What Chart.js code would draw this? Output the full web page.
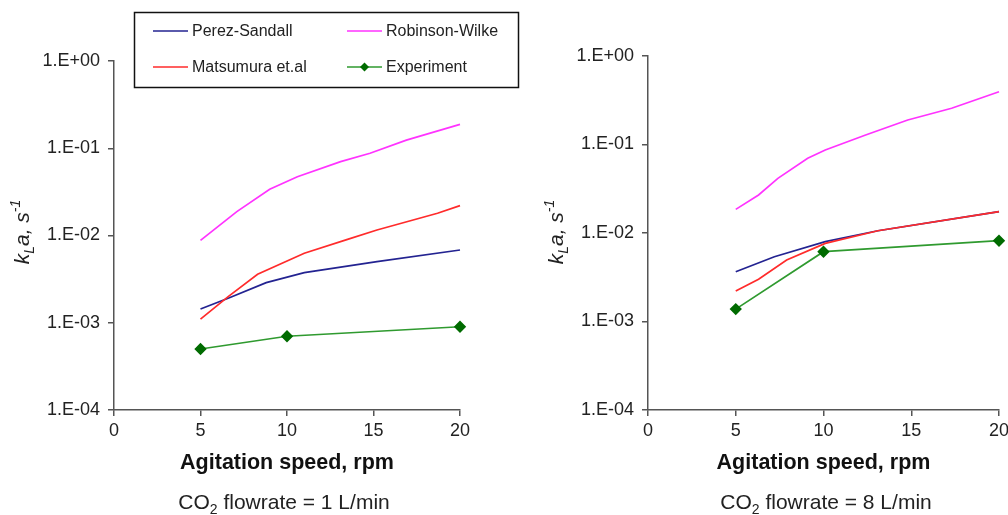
<!DOCTYPE html>
<html>
<head>
<meta charset="utf-8">
<script src="https://cdn.jsdelivr.net/npm/chart.js@4.4.1/dist/chart.umd.min.js"></script>
<style>
    html, body { margin: 0; padding: 0; background: #fff; }
    #wrap { position: relative; width: 1008px; height: 515px; overflow: hidden; font-family: 'Liberation Sans', Arial, sans-serif; color: #222; }
    .pane { position: absolute; top: 0; }
    .flow { position: absolute; top: 489px; width: 300px; text-align: center; font-size: 21px; line-height: 26px; }
    .flow sub { font-size: 14px; vertical-align: -5px; line-height: 0; }
</style>
</head>
<body>
<div id="wrap">
    <div class="pane" style="left:0"><canvas id="chart-1" width="520" height="515"></canvas></div>
    <div class="pane" style="left:520px"><canvas id="chart-8" width="510" height="515"></canvas></div>
    <div class="flow" style="left:134px">CO<sub>2</sub> flowrate = 1 L/min</div>
    <div class="flow" style="left:676px">CO<sub>2</sub> flowrate = 8 L/min</div>
</div>
<script>
const seriesNames = ['Perez-Sandall', 'Robinson-Wilke', 'Matsumura et.al', 'Experiment'];
const yTickValues = [1e-4, 1e-3, 1e-2, 1e-1, 1];
const yTickLabels = ['1.E-04', '1.E-03', '1.E-02', '1.E-01', '1.E+00'];
const xTickValues = [0, 5, 10, 15, 20];

// CO2 flowrate = 1 L/min
const ps1X = [5, 6.6, 8.8, 11.0, 15.2, 20];
const ps1Y = [0.00144, 0.00191, 0.00288, 0.00375, 0.00501, 0.00682];
const rw1X = [5, 7.1, 9.0, 10.6, 13.1, 14.8, 16.9, 20];
const rw1Y = [0.0088, 0.0188, 0.0339, 0.0472, 0.0702, 0.0876, 0.124, 0.188];
const ma1X = [5, 6.6, 8.3, 11.0, 13.5, 15.2, 18.7, 20];
const ma1Y = [0.0011, 0.00199, 0.00359, 0.00625, 0.00904, 0.01156, 0.01796, 0.0220];
const ex1X = [5, 10, 20];
const ex1Y = [0.0005, 0.0007, 0.0009];

// CO2 flowrate = 8 L/min
const ps8X = [5, 7.2, 10.1, 13.1, 20];
const ps8Y = [0.00365, 0.0054, 0.0080, 0.0106, 0.0174];
const rw8X = [5, 6.3, 7.4, 9.1, 10.1, 12.4, 14.8, 17.3, 20];
const rw8Y = [0.0185, 0.0269, 0.0415, 0.0698, 0.0867, 0.128, 0.189, 0.257, 0.395];
const ma8X = [5, 6.3, 7.9, 10.1, 13.1, 20];
const ma8Y = [0.00221, 0.0030, 0.00495, 0.00764, 0.0106, 0.0174];
const ex8X = [5, 10, 20];
const ex8Y = [0.00138, 0.00615, 0.00818];

(function () {
    const FONT = "'Liberation Sans', Arial, sans-serif";
    const colors = ['#232391', '#ff33ff', '#ff2b2b', '#2f9a2f'];
    const drawOrder = [3, 2, 1, 0];
    const AXIS = '#555';

    function pts(xs, ys) {
        return xs.map((x, i) => ({ x: x, y: ys[i] }));
    }

    function makeDatasets(sets) {
        return sets.map((s, i) => {
            const isExp = i === 3;
            return {
                label: seriesNames[i],
                data: pts(s[0], s[1]),
                borderColor: colors[i],
                backgroundColor: isExp ? '#006b00' : colors[i],
                borderWidth: 1.7,
                tension: 0,
                clip: false,
                order: drawOrder[i],
                pointStyle: 'rectRot',
                pointRadius: isExp ? 5 : 0,
                pointBorderColor: '#006b00',
                pointBackgroundColor: '#006b00',
            };
        });
    }

    // rotated "kLa, s-1" with subscript and superscript
    function yTitlePlugin(cx, cy) {
        return {
            id: 'yTitle',
            afterDraw(chart) {
                const ctx = chart.ctx;
                const parts = [
                    { t: 'k', size: 21, dy: 0 },
                    { t: 'L', size: 14, dy: 5 },
                    { t: 'a, s', size: 21, dy: 0 },
                    { t: '-1', size: 14, dy: -9 },
                ];
                ctx.save();
                let total = 0;
                parts.forEach((p) => {
                    ctx.font = 'italic ' + p.size + 'px ' + FONT;
                    p.w = ctx.measureText(p.t).width;
                    total += p.w;
                });
                ctx.translate(cx, cy);
                ctx.rotate(-Math.PI / 2);
                ctx.fillStyle = '#222';
                ctx.textBaseline = 'alphabetic';
                let x = -total / 2;
                parts.forEach((p) => {
                    ctx.font = 'italic ' + p.size + 'px ' + FONT;
                    ctx.fillText(p.t, x, 7 + p.dy);
                    x += p.w;
                });
                ctx.restore();
            },
        };
    }

    const legendPlugin = {
        id: 'boxLegend',
        afterDraw(chart) {
            const ctx = chart.ctx;
            const slots = [
                { x: 153, y: 31 },
                { x: 347, y: 31 },
                { x: 153, y: 67 },
                { x: 347, y: 67 },
            ];
            ctx.save();
            ctx.fillStyle = '#fff';
            ctx.fillRect(134.5, 12.5, 384, 75);
            ctx.strokeStyle = '#111';
            ctx.lineWidth = 1.5;
            ctx.strokeRect(134.5, 12.5, 384, 75);
            ctx.font = '16px ' + FONT;
            ctx.textBaseline = 'middle';
            chart.data.datasets.forEach((ds, i) => {
                const s = slots[i];
                ctx.strokeStyle = ds.borderColor;
                ctx.lineWidth = 1.7;
                ctx.beginPath();
                ctx.moveTo(s.x, s.y);
                ctx.lineTo(s.x + 35, s.y);
                ctx.stroke();
                if (ds.pointRadius > 0) {
                    const mx = s.x + 17.5;
                    ctx.fillStyle = ds.pointBackgroundColor;
                    ctx.beginPath();
                    ctx.moveTo(mx, s.y - 4.5);
                    ctx.lineTo(mx + 4.5, s.y);
                    ctx.lineTo(mx, s.y + 4.5);
                    ctx.lineTo(mx - 4.5, s.y);
                    ctx.closePath();
                    ctx.fill();
                }
                ctx.fillStyle = '#222';
                ctx.fillText(ds.label, s.x + 39, s.y + 1);
            });
            ctx.restore();
        },
    };

    function buildChart(id, sets, opts) {
        const plugins = [yTitlePlugin(opts.titleX, 232)];
        if (opts.legend) {
            plugins.push(legendPlugin);
        }
        return new Chart(document.getElementById(id), {
            type: 'line',
            data: { datasets: makeDatasets(sets) },
            plugins: plugins,
            options: {
                responsive: false,
                animation: false,
                layout: { padding: { top: opts.top, right: opts.right, left: 0, bottom: 0 } },
                plugins: { legend: { display: false }, tooltip: { enabled: false } },
                scales: {
                    x: {
                        type: 'linear',
                        min: 0,
                        max: 20,
                        afterFit: (s) => { s.height = 105; },
                        afterBuildTicks: (s) => { s.ticks = xTickValues.map((v) => ({ value: v })); },
                        ticks: { color: '#222', padding: 4, font: { family: FONT, size: 18 } },
                        grid: { drawOnChartArea: false, tickLength: 6, color: AXIS, lineWidth: 1.5 },
                        border: { color: AXIS, width: 1.5 },
                        title: {
                            display: true,
                            text: 'Agitation speed, rpm',
                            color: '#111',
                            font: { family: FONT, size: 21.5, weight: 'bold' },
                            padding: { top: 0, bottom: 39 },
                        },
                    },
                    y: {
                        type: 'logarithmic',
                        min: 1e-4,
                        max: 1,
                        afterFit: (s) => { s.width = opts.axisX; },
                        afterBuildTicks: (s) => { s.ticks = yTickValues.map((v) => ({ value: v })); },
                        ticks: {
                            color: '#222',
                            padding: 8,
                            font: { family: FONT, size: 18 },
                            callback: (v) => yTickLabels[yTickValues.indexOf(v)],
                        },
                        grid: { drawOnChartArea: false, tickLength: 6, color: AXIS, lineWidth: 1.5 },
                        border: { color: AXIS, width: 1.5 },
                    },
                },
            },
        });
    }

    buildChart('chart-1', [[ps1X, ps1Y], [rw1X, rw1Y], [ma1X, ma1Y], [ex1X, ex1Y]],
        { top: 61, right: 60, axisX: 114, titleX: 22, legend: true });
    buildChart('chart-8', [[ps8X, ps8Y], [rw8X, rw8Y], [ma8X, ma8Y], [ex8X, ex8Y]],
        { top: 56, right: 31, axisX: 128, titleX: 36, legend: false });
})();
</script>
</body>
</html>
